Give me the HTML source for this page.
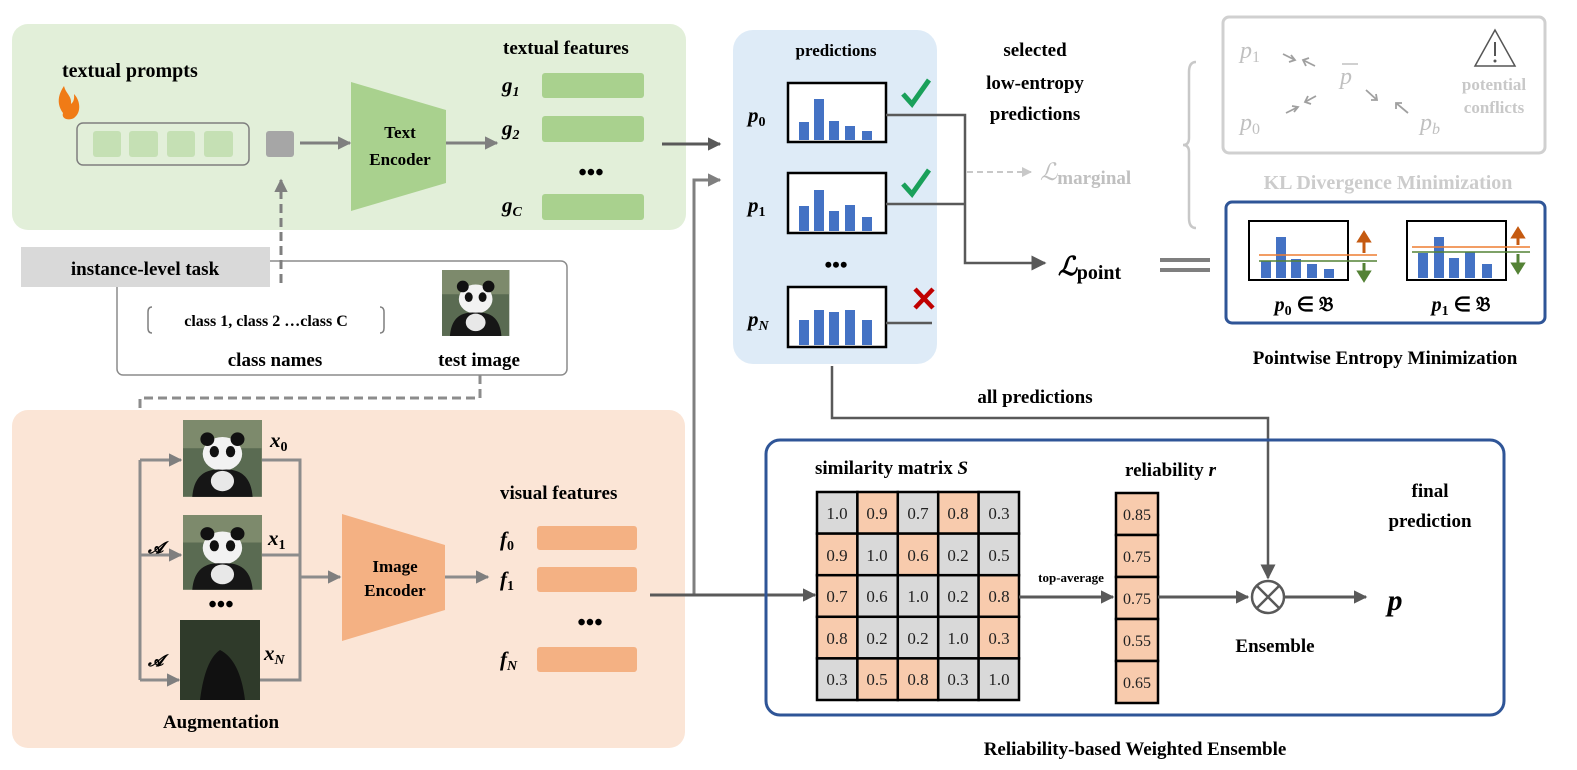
<!DOCTYPE html>
<html><head><meta charset="utf-8"><style>
html,body{margin:0;padding:0;background:#fff;}
svg{display:block;font-family:"Liberation Serif",serif;}
.b{font-weight:bold;}
</style></head><body>
<svg width="1577" height="770" viewBox="0 0 1577 770" xmlns="http://www.w3.org/2000/svg">
<defs>
<marker id="ah" viewBox="0 0 10 10" refX="9" refY="5" markerWidth="4.5" markerHeight="4.5" orient="auto"><path d="M0,0 L10,5 L0,10 z" fill="#595959"/></marker>
<marker id="ah2" viewBox="0 0 10 10" refX="9" refY="5" markerWidth="6" markerHeight="6" orient="auto"><path d="M0,0 L10,5 L0,10 z" fill="#595959"/></marker>
<marker id="ahg" viewBox="0 0 10 10" refX="9" refY="5" markerWidth="4.5" markerHeight="4.5" orient="auto"><path d="M0,0 L10,5 L0,10 z" fill="#7f7f7f"/></marker>
<marker id="ahl" viewBox="0 0 10 10" refX="9" refY="5" markerWidth="5" markerHeight="5" orient="auto"><path d="M0,0 L10,5 L0,10 z" fill="#c8c8c8"/></marker>
<g id="panda">
<rect x="0" y="0" width="68" height="68" fill="#5a6b52"/>
<rect x="0" y="0" width="68" height="25" fill="#7d8a6c"/>
<ellipse cx="34" cy="30" rx="17" ry="15" fill="#f2f2f2"/>
<circle cx="21" cy="17" r="6" fill="#111"/><circle cx="47" cy="17" r="6" fill="#111"/>
<ellipse cx="27" cy="28" rx="4" ry="5" fill="#111"/><ellipse cx="41" cy="28" rx="4" ry="5" fill="#111"/>
<path d="M8,68 Q10,42 34,44 Q58,42 60,68 z" fill="#161616"/>
<ellipse cx="34" cy="54" rx="10" ry="9" fill="#e8e8e8"/>
</g>
</defs>

<!-- Green panel -->
<rect x="12" y="24" width="674" height="206" rx="16" fill="#e2efd9"/>
<text x="62" y="77" class="b" font-size="20">textual prompts</text>
<path d="M63,113 C55,102 60,92 64,86 C66,94 72,96 71,104 C75,101 74,96 74,94 C80,100 82,112 74,118 C69,121 61,119 63,113z" fill="#f07b16"/>
<rect x="77" y="123" width="172" height="42" rx="6" fill="none" stroke="#7f7f7f" stroke-width="1.5"/>
<rect x="93" y="131" width="28" height="26" rx="3" fill="#c5e0b4"/>
<rect x="129" y="131" width="29" height="26" rx="3" fill="#c5e0b4"/>
<rect x="167" y="131" width="28" height="26" rx="3" fill="#c5e0b4"/>
<rect x="204" y="131" width="29" height="26" rx="3" fill="#c5e0b4"/>
<rect x="266" y="131" width="28" height="26" rx="3" fill="#a6a6a6"/>
<line x1="300" y1="143" x2="350" y2="143" stroke="#7f7f7f" stroke-width="3" marker-end="url(#ahg)"/>
<polygon points="351,82 446,110 446,183 351,211" fill="#a9d18e"/>
<text x="400" y="138" class="b" font-size="17" text-anchor="middle">Text</text>
<text x="400" y="165" class="b" font-size="17" text-anchor="middle">Encoder</text>
<line x1="446" y1="143" x2="497" y2="143" stroke="#7f7f7f" stroke-width="3" marker-end="url(#ahg)"/>
<text x="503" y="54" class="b" font-size="19">textual features</text>
<text x="502" y="92" class="b" font-size="21" font-style="italic">g<tspan font-size="14" dy="4">1</tspan></text>
<text x="502" y="135" class="b" font-size="21" font-style="italic">g<tspan font-size="14" dy="4">2</tspan></text>
<text x="502" y="212" class="b" font-size="21" font-style="italic">g<tspan font-size="14" dy="4" font-style="italic">C</tspan></text>
<rect x="542" y="73" width="102" height="25" rx="3" fill="#a9d18e"/>
<rect x="542" y="116" width="102" height="26" rx="3" fill="#a9d18e"/>
<rect x="542" y="194" width="102" height="26" rx="3" fill="#a9d18e"/>
<text x="591" y="180" class="b" font-size="24" text-anchor="middle">•••</text>

<!-- arrows into predictions -->
<line x1="662" y1="144" x2="720" y2="144" stroke="#595959" stroke-width="3" marker-end="url(#ah)"/>
<polyline points="694,595 694,180 720,180" fill="none" stroke="#7f7f7f" stroke-width="3" marker-end="url(#ahg)"/>

<!-- instance-level task -->
<rect x="117" y="261" width="450" height="114" rx="6" fill="#fff" stroke="#8c8c8c" stroke-width="1.5"/>
<rect x="21" y="247" width="249" height="40" fill="#d9d9d9"/>
<text x="145" y="275" class="b" font-size="19" text-anchor="middle">instance-level task</text>
<line x1="281" y1="283" x2="281" y2="180" stroke="#7f7f7f" stroke-width="3" stroke-dasharray="9,5" marker-end="url(#ahg)"/>
<path d="M152,307 Q148,307 148,312 L148,328 Q148,333 152,333" fill="none" stroke="#7f7f7f" stroke-width="1.5"/>
<path d="M380,307 Q384,307 384,312 L384,328 Q384,333 380,333" fill="none" stroke="#7f7f7f" stroke-width="1.5"/>
<text x="266" y="326" class="b" font-size="16" text-anchor="middle">class 1, class 2 …class C</text>
<use href="#panda" transform="translate(442,270) scale(0.99,0.97)"/>
<text x="275" y="366" class="b" font-size="19" text-anchor="middle">class names</text>
<text x="479" y="366" class="b" font-size="19" text-anchor="middle">test image</text>
<polyline points="480,375 480,398 140,398 140,462" fill="none" stroke="#8c8c8c" stroke-width="3" stroke-dasharray="9,5"/>

<!-- Orange panel -->
<rect x="12" y="410" width="673" height="338" rx="16" fill="#fbe5d6"/>
<polyline points="140,460 140,680" fill="none" stroke="#8c8c8c" stroke-width="3"/>
<line x1="140" y1="460" x2="181" y2="460" stroke="#8c8c8c" stroke-width="3" marker-end="url(#ahg)"/>
<line x1="140" y1="555" x2="181" y2="555" stroke="#8c8c8c" stroke-width="3" marker-end="url(#ahg)"/>
<line x1="140" y1="680" x2="179" y2="680" stroke="#8c8c8c" stroke-width="3" marker-end="url(#ahg)"/>
<use href="#panda" transform="translate(183,420) scale(1.16,1.13)"/>
<use href="#panda" transform="translate(183,515) scale(1.16,1.1)"/>
<rect x="180" y="620" width="80" height="80" fill="#2f3a2a"/>
<path d="M200,700 Q205,660 220,650 Q240,660 245,700z" fill="#111"/>
<text x="148" y="553" class="b" font-size="16" font-style="italic">𝓐</text>
<text x="148" y="666" class="b" font-size="16" font-style="italic">𝓐</text>
<text x="270" y="447" class="b" font-size="21" font-style="italic">x<tspan font-size="14" dy="4" font-style="normal">0</tspan></text>
<text x="268" y="545" class="b" font-size="21" font-style="italic">x<tspan font-size="14" dy="4" font-style="normal">1</tspan></text>
<text x="264" y="660" class="b" font-size="21" font-style="italic">x<tspan font-size="14" dy="4">N</tspan></text>
<text x="221" y="612" class="b" font-size="24" text-anchor="middle">•••</text>
<text x="221" y="728" class="b" font-size="19" text-anchor="middle">Augmentation</text>
<polyline points="262,460 300,460 300,680 260,680" fill="none" stroke="#8c8c8c" stroke-width="3"/>
<line x1="262" y1="555" x2="300" y2="555" stroke="#8c8c8c" stroke-width="3"/>
<line x1="300" y1="577" x2="340" y2="577" stroke="#8c8c8c" stroke-width="3" marker-end="url(#ahg)"/>
<polygon points="342,514 445,545 445,610 342,641" fill="#f4b183"/>
<text x="395" y="572" class="b" font-size="17" text-anchor="middle">Image</text>
<text x="395" y="596" class="b" font-size="17" text-anchor="middle">Encoder</text>
<line x1="445" y1="577" x2="488" y2="577" stroke="#8c8c8c" stroke-width="3" marker-end="url(#ahg)"/>
<text x="500" y="499" class="b" font-size="19">visual features</text>
<text x="500" y="546" class="b" font-size="21" font-style="italic">f<tspan font-size="14" dy="4" font-style="normal">0</tspan></text>
<text x="500" y="586" class="b" font-size="21" font-style="italic">f<tspan font-size="14" dy="4" font-style="normal">1</tspan></text>
<text x="500" y="666" class="b" font-size="21" font-style="italic">f<tspan font-size="14" dy="4">N</tspan></text>
<rect x="537" y="526" width="100" height="24" rx="3" fill="#f4b183"/>
<rect x="537" y="567" width="100" height="25" rx="3" fill="#f4b183"/>
<rect x="537" y="647" width="100" height="25" rx="3" fill="#f4b183"/>
<text x="590" y="630" class="b" font-size="24" text-anchor="middle">•••</text>
<line x1="650" y1="595" x2="815" y2="595" stroke="#595959" stroke-width="3" marker-end="url(#ah)"/>

<!-- predictions panel -->
<rect x="733" y="30" width="204" height="334" rx="20" fill="#deebf7"/>
<text x="836" y="56" class="b" font-size="17" text-anchor="middle">predictions</text>
<text x="748" y="122" class="b" font-size="21" font-style="italic">p<tspan font-size="14" dy="4" font-style="normal">0</tspan></text>
<text x="748" y="212" class="b" font-size="21" font-style="italic">p<tspan font-size="14" dy="4" font-style="normal">1</tspan></text>
<text x="748" y="326" class="b" font-size="21" font-style="italic">p<tspan font-size="14" dy="4">N</tspan></text>
<rect x="788" y="83" width="98" height="59" fill="#fff" stroke="#000" stroke-width="2.5"/>
<rect x="788" y="173" width="98" height="60" fill="#fff" stroke="#000" stroke-width="2.5"/>
<rect x="788" y="287" width="98" height="60" fill="#fff" stroke="#000" stroke-width="2.5"/>
<g fill="#4472c4">
<rect x="799" y="122" width="10" height="18"/><rect x="814" y="99" width="10" height="41"/><rect x="829" y="121" width="10" height="19"/><rect x="845" y="126" width="10" height="14"/><rect x="862" y="131" width="10" height="9"/>
<rect x="799" y="206" width="10" height="25"/><rect x="814" y="190" width="10" height="41"/><rect x="829" y="211" width="10" height="20"/><rect x="845" y="205" width="10" height="26"/><rect x="862" y="217" width="10" height="14"/>
<rect x="799" y="320" width="10" height="25"/><rect x="814" y="310" width="10" height="35"/><rect x="829" y="312" width="10" height="33"/><rect x="845" y="310" width="10" height="35"/><rect x="862" y="320" width="10" height="25"/>
</g>
<text x="836" y="272" class="b" font-size="22" text-anchor="middle">•••</text>
<path d="M903,94 L912,104 L929,80" fill="none" stroke="#1aa05a" stroke-width="5"/>
<path d="M903,184 L912,194 L929,170" fill="none" stroke="#1aa05a" stroke-width="5"/>
<path d="M915,289 L933,308 M933,289 L915,308" stroke="#c00000" stroke-width="4.5"/>
<polyline points="886,115 965,115 965,263 1045,263" fill="none" stroke="#595959" stroke-width="2.5" marker-end="url(#ah2)"/>
<line x1="886" y1="204" x2="965" y2="204" stroke="#595959" stroke-width="2.5"/>
<line x1="886" y1="323" x2="932" y2="323" stroke="#595959" stroke-width="2.5"/>
<line x1="967" y1="172" x2="1031" y2="172" stroke="#c8c8c8" stroke-width="2" stroke-dasharray="6,4" marker-end="url(#ahl)"/>
<text x="1035" y="56" class="b" font-size="19" text-anchor="middle">selected</text>
<text x="1035" y="89" class="b" font-size="19" text-anchor="middle">low-entropy</text>
<text x="1035" y="120" class="b" font-size="19" text-anchor="middle">predictions</text>
<text x="1040" y="180" font-size="24" font-style="italic" fill="#c0c0c0">ℒ<tspan font-size="19" font-style="normal" font-weight="bold" dy="4">marginal</tspan></text>
<text x="1058" y="275" font-size="26" font-style="italic" class="b">ℒ<tspan font-size="20" font-style="normal" dy="4">point</tspan></text>
<rect x="1160" y="258" width="50" height="4" fill="#7f7f7f"/>
<rect x="1160" y="268" width="50" height="4" fill="#7f7f7f"/>
<path d="M1196,62 Q1189,62 1189,72 L1189,138 Q1189,145 1183,145 Q1189,145 1189,152 L1189,218 Q1189,228 1196,228" fill="none" stroke="#c8c8c8" stroke-width="2.5"/>

<!-- KL box -->
<rect x="1223" y="17" width="322" height="136" rx="6" fill="none" stroke="#d0d0d0" stroke-width="3"/>
<g fill="#c0c0c0" font-size="24" font-style="italic">
<text x="1240" y="58">p<tspan font-size="16" font-style="normal" dy="4">1</tspan></text>
<text x="1240" y="130">p<tspan font-size="16" font-style="normal" dy="4">0</tspan></text>
<text x="1340" y="84">p</text>
<text x="1420" y="130">p<tspan font-size="16" dy="4">b</tspan></text>
</g>
<line x1="1342" y1="64" x2="1358" y2="64" stroke="#c0c0c0" stroke-width="1.5"/>
<g stroke="#a0a0a0" stroke-width="1.8" fill="none">
<path d="M1283,54 L1295,60 M1291,55 L1295,60 L1289,62"/>
<path d="M1315,66 L1303,60 M1306,66 L1303,60 L1309,58"/>
<path d="M1286,113 L1298,107 M1292,106 L1298,107 L1294,112"/>
<path d="M1316,96 L1305,102 M1308,96 L1305,102 L1311,104"/>
<path d="M1366,90 L1377,100 M1371,100 L1377,100 L1376,94"/>
<path d="M1408,113 L1396,103 M1396,109 L1396,103 L1402,103"/>
</g>
<polygon points="1495,30 1475,66 1515,66" fill="none" stroke="#555" stroke-width="1.5"/>
<line x1="1495" y1="42" x2="1495" y2="56" stroke="#555" stroke-width="2"/><circle cx="1495" cy="61" r="1.5" fill="#555"/>
<text x="1494" y="90" class="b" font-size="17" text-anchor="middle" fill="#c8c8c8">potential</text>
<text x="1494" y="113" class="b" font-size="17" text-anchor="middle" fill="#c8c8c8">conflicts</text>
<text x="1388" y="189" class="b" font-size="20" text-anchor="middle" fill="#cccccc">KL Divergence Minimization</text>

<!-- Pointwise box -->
<rect x="1226" y="202" width="319" height="121" rx="6" fill="none" stroke="#2f5597" stroke-width="3"/>
<rect x="1249" y="221" width="99" height="59" fill="#fff" stroke="#000" stroke-width="2"/>
<rect x="1407" y="221" width="99" height="59" fill="#fff" stroke="#000" stroke-width="2"/>
<g fill="#4472c4">
<rect x="1261" y="261" width="10" height="17"/><rect x="1276" y="237" width="10" height="41"/><rect x="1291" y="259" width="10" height="19"/><rect x="1307" y="264" width="10" height="14"/><rect x="1324" y="269" width="10" height="9"/>
<rect x="1418" y="253" width="10" height="25"/><rect x="1434" y="237" width="10" height="41"/><rect x="1449" y="258" width="10" height="20"/><rect x="1465" y="252" width="10" height="26"/><rect x="1482" y="264" width="10" height="14"/>
</g>
<line x1="1259" y1="255" x2="1377" y2="255" stroke="#ed7d31" stroke-width="1.5"/>
<line x1="1259" y1="261" x2="1377" y2="261" stroke="#548235" stroke-width="1.5"/>
<line x1="1412" y1="247" x2="1530" y2="247" stroke="#ed7d31" stroke-width="1.5"/>
<line x1="1412" y1="252" x2="1530" y2="252" stroke="#548235" stroke-width="1.5"/>
<path d="M1364,253 L1364,239 M1359,241 L1364,233 L1369,241z" stroke="#c55a11" stroke-width="3" fill="#c55a11"/>
<path d="M1364,263 L1364,274 M1359,272 L1364,280 L1369,272z" stroke="#548235" stroke-width="3" fill="#548235"/>
<path d="M1518,245 L1518,235 M1513,237 L1518,229 L1523,237z" stroke="#c55a11" stroke-width="3" fill="#c55a11"/>
<path d="M1518,254 L1518,266 M1513,264 L1518,272 L1523,264z" stroke="#548235" stroke-width="3" fill="#548235"/>
<text x="1304" y="311" class="b" font-size="20" text-anchor="middle"><tspan font-style="italic">p</tspan><tspan font-size="14" dy="4">0</tspan><tspan dy="-4"> ∈ 𝔅</tspan></text>
<text x="1461" y="311" class="b" font-size="20" text-anchor="middle"><tspan font-style="italic">p</tspan><tspan font-size="14" dy="4">1</tspan><tspan dy="-4"> ∈ 𝔅</tspan></text>
<text x="1385" y="364" class="b" font-size="19" text-anchor="middle">Pointwise Entropy Minimization</text>

<!-- all predictions -->
<polyline points="832,366 832,418 1268,418 1268,578" fill="none" stroke="#595959" stroke-width="2.5" marker-end="url(#ah2)"/>
<text x="1035" y="403" class="b" font-size="19" text-anchor="middle">all predictions</text>

<!-- Ensemble box -->
<rect x="766" y="440" width="738" height="275" rx="14" fill="none" stroke="#2f5597" stroke-width="3"/>
<text x="815" y="474" class="b" font-size="19">similarity matrix <tspan font-style="italic">S</tspan></text>
<g stroke="#000" stroke-width="2.5">
<rect x="817" y="492" width="40.4" height="41.6" fill="#d9d9d9"/><rect x="857.4" y="492" width="40.4" height="41.6" fill="#f8cbad"/><rect x="897.8" y="492" width="40.4" height="41.6" fill="#d9d9d9"/><rect x="938.2" y="492" width="40.4" height="41.6" fill="#f8cbad"/><rect x="978.6" y="492" width="40.4" height="41.6" fill="#d9d9d9"/>
<rect x="817" y="533.6" width="40.4" height="41.6" fill="#f8cbad"/><rect x="857.4" y="533.6" width="40.4" height="41.6" fill="#d9d9d9"/><rect x="897.8" y="533.6" width="40.4" height="41.6" fill="#f8cbad"/><rect x="938.2" y="533.6" width="40.4" height="41.6" fill="#d9d9d9"/><rect x="978.6" y="533.6" width="40.4" height="41.6" fill="#d9d9d9"/>
<rect x="817" y="575.2" width="40.4" height="41.6" fill="#f8cbad"/><rect x="857.4" y="575.2" width="40.4" height="41.6" fill="#d9d9d9"/><rect x="897.8" y="575.2" width="40.4" height="41.6" fill="#d9d9d9"/><rect x="938.2" y="575.2" width="40.4" height="41.6" fill="#d9d9d9"/><rect x="978.6" y="575.2" width="40.4" height="41.6" fill="#f8cbad"/>
<rect x="817" y="616.8" width="40.4" height="41.6" fill="#f8cbad"/><rect x="857.4" y="616.8" width="40.4" height="41.6" fill="#d9d9d9"/><rect x="897.8" y="616.8" width="40.4" height="41.6" fill="#d9d9d9"/><rect x="938.2" y="616.8" width="40.4" height="41.6" fill="#d9d9d9"/><rect x="978.6" y="616.8" width="40.4" height="41.6" fill="#f8cbad"/>
<rect x="817" y="658.4" width="40.4" height="41.6" fill="#d9d9d9"/><rect x="857.4" y="658.4" width="40.4" height="41.6" fill="#f8cbad"/><rect x="897.8" y="658.4" width="40.4" height="41.6" fill="#f8cbad"/><rect x="938.2" y="658.4" width="40.4" height="41.6" fill="#d9d9d9"/><rect x="978.6" y="658.4" width="40.4" height="41.6" fill="#d9d9d9"/>
</g>
<g font-size="17" text-anchor="middle" fill="#222">
<text x="837" y="519">1.0</text><text x="877" y="519">0.9</text><text x="918" y="519">0.7</text><text x="958" y="519">0.8</text><text x="999" y="519">0.3</text>
<text x="837" y="561">0.9</text><text x="877" y="561">1.0</text><text x="918" y="561">0.6</text><text x="958" y="561">0.2</text><text x="999" y="561">0.5</text>
<text x="837" y="602">0.7</text><text x="877" y="602">0.6</text><text x="918" y="602">1.0</text><text x="958" y="602">0.2</text><text x="999" y="602">0.8</text>
<text x="837" y="644">0.8</text><text x="877" y="644">0.2</text><text x="918" y="644">0.2</text><text x="958" y="644">1.0</text><text x="999" y="644">0.3</text>
<text x="837" y="685">0.3</text><text x="877" y="685">0.5</text><text x="918" y="685">0.8</text><text x="958" y="685">0.3</text><text x="999" y="685">1.0</text>
</g>
<line x1="1019" y1="597" x2="1113" y2="597" stroke="#595959" stroke-width="3" marker-end="url(#ah)"/>
<text x="1071" y="582" class="b" font-size="13" text-anchor="middle">top-average</text>
<text x="1125" y="476" class="b" font-size="19">reliability <tspan font-style="italic">r</tspan></text>
<g stroke="#000" stroke-width="2.5" fill="#f8cbad">
<rect x="1116" y="493" width="42" height="42"/><rect x="1116" y="535" width="42" height="42"/><rect x="1116" y="577" width="42" height="42"/><rect x="1116" y="619" width="42" height="42"/><rect x="1116" y="661" width="42" height="42"/>
</g>
<g font-size="16" text-anchor="middle" fill="#222">
<text x="1137" y="520">0.85</text><text x="1137" y="562">0.75</text><text x="1137" y="604">0.75</text><text x="1137" y="646">0.55</text><text x="1137" y="688">0.65</text>
</g>
<line x1="1158" y1="597" x2="1248" y2="597" stroke="#595959" stroke-width="3" marker-end="url(#ah)"/>
<circle cx="1268" cy="597" r="16" fill="#fff" stroke="#595959" stroke-width="2.5"/>
<path d="M1257,586 L1279,608 M1279,586 L1257,608" stroke="#595959" stroke-width="2.5"/>
<line x1="1284" y1="597" x2="1366" y2="597" stroke="#595959" stroke-width="3" marker-end="url(#ah)"/>
<text x="1275" y="652" class="b" font-size="19" text-anchor="middle">Ensemble</text>
<text x="1430" y="497" class="b" font-size="19" text-anchor="middle">final</text>
<text x="1430" y="527" class="b" font-size="19" text-anchor="middle">prediction</text>
<text x="1395" y="610" class="b" font-size="30" font-style="italic" text-anchor="middle">p</text>
<text x="1135" y="755" class="b" font-size="19" text-anchor="middle">Reliability-based Weighted Ensemble</text>
</svg>
</body></html>
